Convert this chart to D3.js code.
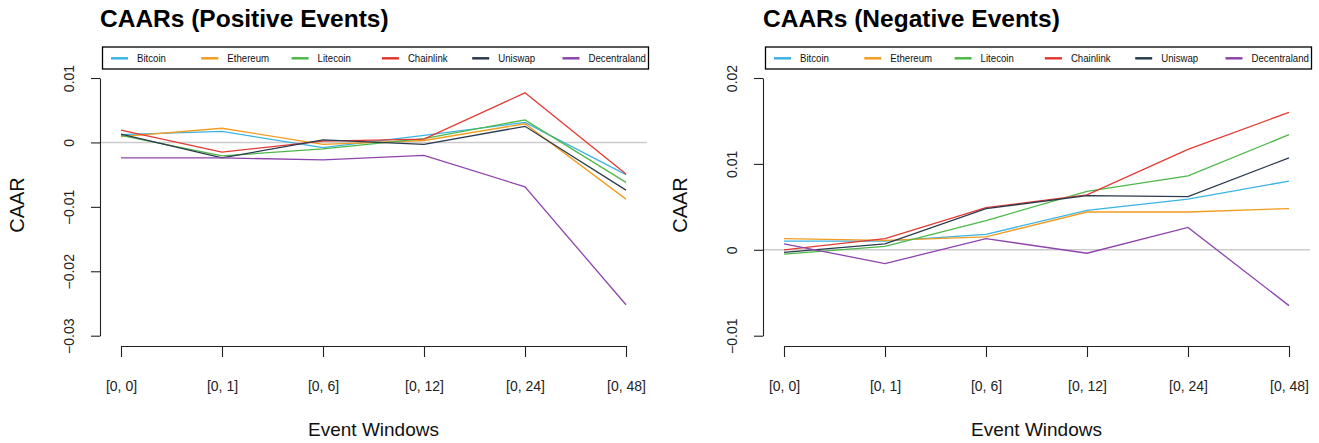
<!DOCTYPE html>
<html>
<head>
<meta charset="utf-8">
<script src="https://cdn.jsdelivr.net/npm/d3@7"></script>
<style>
  html, body { margin: 0; padding: 0; background: #fff; }
  svg { display: block; font-family: "Liberation Sans", Arial, Helvetica, sans-serif; }
</style>
</head>
<body>
<svg id="chart" width="1319" height="443"></svg>
<script>
// ---- data ----
const categories = ["[0, 0]", "[0, 1]", "[0, 6]", "[0, 12]", "[0, 24]", "[0, 48]"];
const coins = ["Bitcoin", "Ethereum", "Litecoin", "Chainlink", "Uniswap", "Decentraland"];
const coinColors = ["#3bb3e4", "#f39c1f", "#4cb848", "#e23a33", "#2b3a4e", "#8e44ad"];

const posBitcoin      = [0.0012, 0.0017, -0.0008, 0.0011, 0.0031, -0.0050];
const posEthereum     = [0.0009, 0.0022, -0.0003, 0.0003, 0.0029, -0.0088];
const posLitecoin     = [0.0011, -0.0021, -0.0010, 0.0006, 0.0035, -0.0062];
const posChainlink    = [0.0019, -0.0015, 0.0002, 0.0005, 0.0077, -0.0049];
const posUniswap      = [0.0013, -0.0024, 0.0004, -0.0003, 0.0025, -0.0074];
const posDecentraland = [-0.0024, -0.0024, -0.0027, -0.0020, -0.0069, -0.0252];

const negBitcoin      = [0.0010, 0.0010, 0.0018, 0.0046, 0.0059, 0.0080];
const negEthereum     = [0.0013, 0.0011, 0.0015, 0.0044, 0.0044, 0.0048];
const negLitecoin     = [-0.0005, 0.0004, 0.0034, 0.0068, 0.0086, 0.0134];
const negChainlink    = [0.0000, 0.0013, 0.0049, 0.0064, 0.0117, 0.0160];
const negUniswap      = [-0.0003, 0.0007, 0.0048, 0.0063, 0.0062, 0.0107];
const negDecentraland = [0.0007, -0.0016, 0.0013, -0.0004, 0.0026, -0.0065];

const posTicks = [0.01, 0, -0.01, -0.02, -0.03];
const negTicks = [0.02, 0.01, 0, -0.01];

const titles = ["CAARs (Positive Events)", "CAARs (Negative Events)"];
const xTitle = "Event Windows";
const yTitle = "CAAR";

const panels = [
  { title: titles[0], series: [posBitcoin, posEthereum, posLitecoin, posChainlink, posUniswap, posDecentraland], ticks: posTicks, offset: 0 },
  { title: titles[1], series: [negBitcoin, negEthereum, negLitecoin, negChainlink, negUniswap, negDecentraland], ticks: negTicks, offset: 663 }
];

const svg = d3.select("#chart");
const fmt = v => v === 0 ? "0" : (v < 0 ? "\u2212" + d3.format("")(-v) : d3.format("")(v));

panels.forEach(p => {
  const g = svg.append("g").attr("transform", `translate(${p.offset},0)`);
  const plotLeft = 100, plotRight = 647, plotBottom = 346;
  const x = d3.scalePoint().domain(categories).range([121, 626]);
  const y = d3.scaleLinear().domain([d3.min(p.ticks), d3.max(p.ticks)]).range([335.7, 78]);

  // zero reference line
  g.append("line")
    .attr("x1", plotLeft).attr("x2", plotRight)
    .attr("y1", y(0)).attr("y2", y(0))
    .attr("stroke", "#cccccc").attr("stroke-width", 1.5);

  // series lines
  const line = d3.line().x((d, i) => x(categories[i])).y(d => y(d));
  p.series.forEach((s, k) => {
    g.append("path").datum(s)
      .attr("d", line)
      .attr("fill", "none")
      .attr("stroke", coinColors[k])
      .attr("stroke-width", 1.3)
      .attr("stroke-linejoin", "miter");
  });

  // y axis
  const yAxis = d3.axisLeft(y).tickValues(p.ticks).tickSize(9).tickSizeOuter(0).tickFormat(fmt);
  const ya = g.append("g").attr("transform", `translate(${plotLeft},0)`).call(yAxis);
  ya.select(".domain").attr("stroke", "#222").attr("stroke-width", 1.1);
  ya.selectAll(".tick line").attr("stroke", "#222").attr("stroke-width", 1.1);
  ya.selectAll(".tick text")
    .attr("x", null).attr("dy", null)
    .attr("transform", "translate(-31,0) rotate(-90)")
    .attr("text-anchor", "middle")
    .attr("dominant-baseline", "central")
    .attr("font-size", 14)
    .attr("fill", "#222");

  // x axis
  const xAxis = d3.axisBottom(x).tickSize(11).tickSizeOuter(0);
  const xa = g.append("g").attr("transform", `translate(0,${plotBottom})`).call(xAxis);
  xa.select(".domain").attr("stroke", "#222").attr("stroke-width", 1.1);
  xa.selectAll(".tick line").attr("stroke", "#222").attr("stroke-width", 1.1);
  xa.selectAll(".tick text")
    .attr("y", 40).attr("dy", null)
    .attr("dominant-baseline", "central")
    .attr("font-size", 14)
    .attr("fill", "#222");

  // axis titles
  g.append("text")
    .attr("x", (plotLeft + plotRight) / 2).attr("y", 436)
    .attr("text-anchor", "middle")
    .attr("font-size", 19).attr("fill", "#111")
    .text(xTitle);
  g.append("text")
    .attr("transform", `translate(24,205) rotate(-90)`)
    .attr("text-anchor", "middle")
    .attr("font-size", 20).attr("fill", "#111")
    .text(yTitle);

  // title
  g.append("text")
    .attr("x", 100).attr("y", 27)
    .attr("font-size", 24.5).attr("font-weight", "bold").attr("fill", "#000")
    .text(p.title);

  // legend
  const lg = g.append("g");
  lg.append("rect")
    .attr("x", 102.5).attr("y", 47).attr("width", 546).attr("height", 22)
    .attr("fill", "#fff").attr("stroke", "#000").attr("stroke-width", 1.3);
  coins.forEach((c, k) => {
    const x0 = 111 + k * 90.3;
    lg.append("line")
      .attr("x1", x0).attr("x2", x0 + 17)
      .attr("y1", 58.3).attr("y2", 58.3)
      .attr("stroke", coinColors[k]).attr("stroke-width", 2.5);
    lg.append("text")
      .attr("transform", `translate(${x0 + 26},58.3) scale(0.92,1)`)
      .attr("dominant-baseline", "central")
      .attr("font-size", 10.5).attr("fill", "#111")
      .text(c);
  });
});
</script>
</body>
</html>
